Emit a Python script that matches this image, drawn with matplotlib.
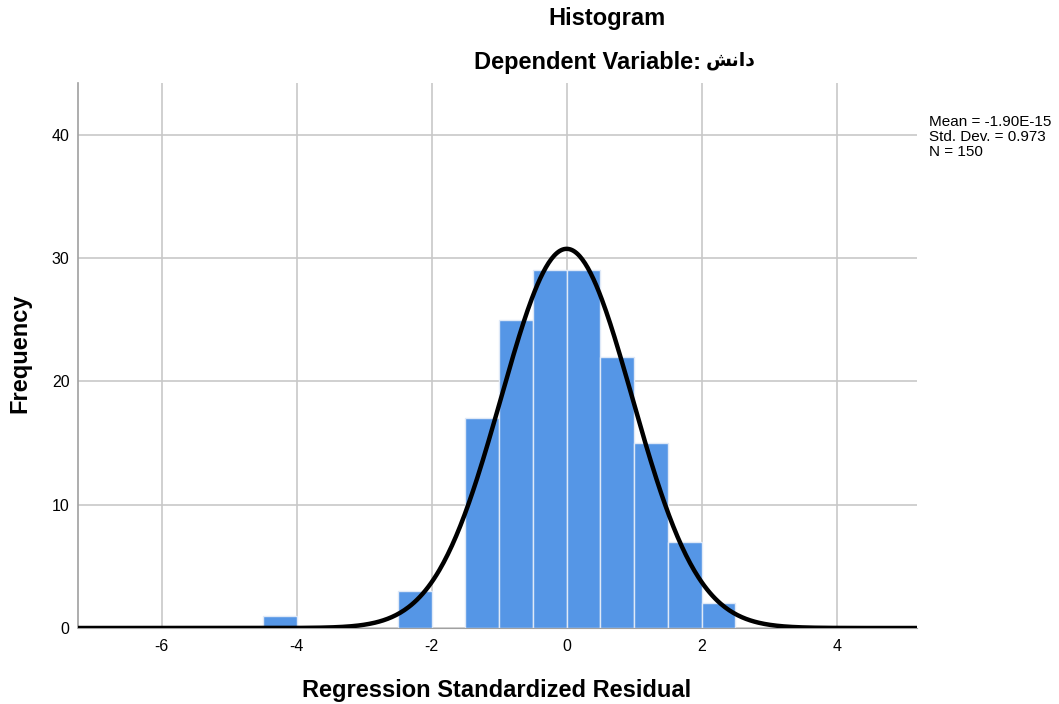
import numpy as np
import matplotlib.pyplot as plt

# histogram bins (left edges) and counts, bin width 0.5
bin_left = [-4.5, -2.5, -1.5, -1.0, -0.5, 0.0, 0.5, 1.0, 1.5, 2.0]
counts = [1, 3, 17, 25, 29, 29, 22, 15, 7, 2]
bin_width = 0.5

mean = -1.90e-15
std = 0.973
n = 150

x_ticks = [-6, -4, -2, 0, 2, 4]
y_ticks = [0, 10, 20, 30, 40]

plt.rcParams['font.family'] = ['Liberation Sans', 'DejaVu Sans']

fig = plt.figure(figsize=(10.59, 7.04), dpi=100)
W, H = 1059, 704
ax = fig.add_axes([78 / W, 1 - 628 / H, (917 - 78) / W, (628 - 83) / H])

ax.bar(bin_left, counts, width=bin_width, align='edge', color='#5596E6',
       edgecolor='#dfe9f7', linewidth=1.0, zorder=2)

# normal curve scaled to counts
xs = np.linspace(-7.24, 5.19, 600)
ys = n * bin_width / (std * np.sqrt(2 * np.pi)) * np.exp(-0.5 * ((xs - mean) / std) ** 2)
ax.plot(xs, ys, color='black', linewidth=3.2, zorder=3, solid_capstyle='butt')

ax.set_xlim(-7.24, 5.19)
ax.set_ylim(0, 44.2)
ax.set_xticks(x_ticks)
ax.set_yticks(y_ticks)
ax.set_xticklabels([str(t) for t in x_ticks])
ax.tick_params(length=0, labelsize=11.5, pad=8)
ax.tick_params(axis='y', pad=6)
ax.grid(True, color='#c8c8c8', linewidth=1.2, zorder=0)
ax.set_axisbelow(True)

for s in ['top', 'right']:
    ax.spines[s].set_visible(False)
ax.spines['left'].set_color('#a0a0a0')
ax.spines['left'].set_linewidth(1.2)
ax.spines['bottom'].set_color('#a0a0a0')

fig.text(497 / W, 1 - 690 / H, 'Regression Standardized Residual',
         ha='center', va='center', fontsize=17, fontweight='bold')
fig.text(20 / W, 1 - 353 / H, 'Frequency', ha='center', va='center',
         rotation=90, fontsize=17, fontweight='bold')

fig.text(607 / W, 1 - 19 / H, 'Histogram', ha='center', va='center',
         fontsize=17, fontweight='bold')
fig.text(701 / W, 1 - 63 / H, 'Dependent Variable:', ha='right',
         va='center', fontsize=17, fontweight='bold')
# Arabic word "دانش" in shaped presentation forms, visual order
arabic = '\uFEB6\uFEE7\uFE8D\uFEA9'
fig.text(706 / W, 1 - 61 / H, arabic, ha='left', va='center',
         fontsize=13.5, fontweight='bold', family=['DejaVu Sans'])

fig.text(929 / W, 1 - 137 / H,
         'Mean = -1.90E-15\nStd. Dev. = 0.973\nN = 150',
         ha='left', va='center', fontsize=11, linespacing=1.12)

fig.savefig('out.png', dpi=100)
